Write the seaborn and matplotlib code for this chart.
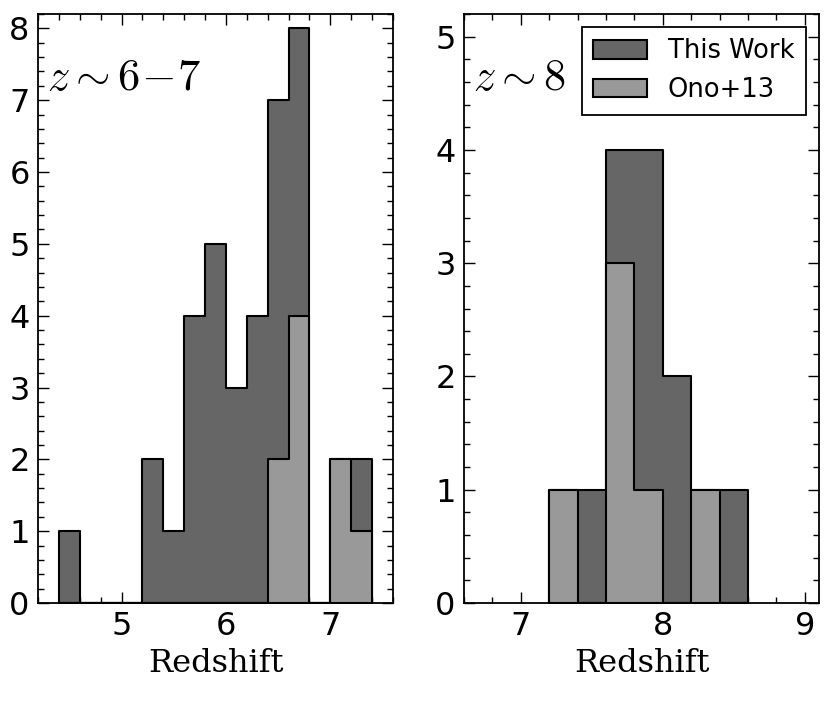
import numpy as np
import matplotlib
matplotlib.use("Agg")
import matplotlib.pyplot as plt
import seaborn as sns
from matplotlib.patches import Patch
from matplotlib.ticker import MultipleLocator

# ---- data ----
left_edges = [4.4, 4.6, 4.8, 5.0, 5.2, 5.4, 5.6, 5.8, 6.0, 6.2, 6.4, 6.6, 6.8, 7.0, 7.2, 7.4]
left_this_work = [1, 0, 0, 0, 2, 1, 4, 5, 3, 4, 7, 8, 0, 2, 2]
left_ono13 = [0, 0, 0, 0, 0, 0, 0, 0, 0, 0, 2, 4, 0, 2, 1]

right_edges = [7.2, 7.4, 7.6, 7.8, 8.0, 8.2, 8.4, 8.6]
right_this_work = [1, 1, 4, 4, 2, 1, 1]
right_ono13 = [1, 0, 3, 1, 0, 1, 0]

panel_labels = [r"$z\sim6\!-\!7$", r"$z\sim8$"]
legend_labels = ["This Work", "Ono+13"]
xlabel = "Redshift"

dark = "#666666"
light = "#999999"

sns.set_theme(style="white")
plt.rcParams["font.family"] = ["DejaVu Sans"]
plt.rcParams["mathtext.fontset"] = "cm"
plt.rcParams["text.color"] = "black"
plt.rcParams["axes.labelcolor"] = "black"
plt.rcParams["xtick.color"] = "black"
plt.rcParams["ytick.color"] = "black"

fig = plt.figure(figsize=(8.3, 7.01), dpi=100)
axL = fig.add_axes([38 / 830, 98 / 701, 355 / 830, 589 / 701])
axR = fig.add_axes([464 / 830, 98 / 701, 355 / 830, 589 / 701])


def centers(edges):
    e = np.array(edges)
    return (e[:-1] + e[1:]) / 2


def draw(ax, edges, tw, ono):
    c = centers(edges)
    for counts, col in ((tw, dark), (ono, light)):
        sns.histplot(x=c, weights=counts, bins=edges, element="step", fill=True,
                     color=col, facecolor=col, alpha=1, edgecolor="black",
                     linewidth=1.5, ax=ax)


draw(axL, left_edges, left_this_work, left_ono13)
draw(axR, right_edges, right_this_work, right_ono13)

axL.set_xlim(4.2, 7.6)
axL.set_ylim(0, 8.2)
axR.set_xlim(6.6, 9.1)
axR.set_ylim(0, 5.2)

for ax, lab in ((axL, panel_labels[0]), (axR, panel_labels[1])):
    ax.set_ylabel("")
    ax.set_xlabel(xlabel, family="DejaVu Serif", fontsize=23, labelpad=4,
                  color="black")
    ax.xaxis.set_major_locator(MultipleLocator(1))
    ax.xaxis.set_minor_locator(MultipleLocator(0.2))
    ax.yaxis.set_major_locator(MultipleLocator(1))
    ax.yaxis.set_minor_locator(MultipleLocator(0.2))
    ax.tick_params(which="both", direction="in", top=True, right=True,
                   bottom=True, left=True, colors="black", labelcolor="black")
    ax.tick_params(which="major", length=8, width=1, labelsize=23, pad=6)
    ax.tick_params(which="minor", length=4, width=1)
    for s in ax.spines.values():
        s.set_visible(True)
        s.set_color("black")
        s.set_linewidth(1.3)
    ax.text(0.025, 0.871, lab, transform=ax.transAxes, fontsize=32,
            ha="left", va="baseline", color="black")

handles = [Patch(facecolor=dark, edgecolor="black", linewidth=1.5),
           Patch(facecolor=light, edgecolor="black", linewidth=1.5)]
leg = axR.legend(handles, legend_labels, loc="upper right", fontsize=18.5,
                 frameon=True, fancybox=False, borderaxespad=0.5,
                 handlelength=2.1, handleheight=0.72, handletextpad=0.8,
                 borderpad=0.45, labelspacing=0.5)
leg.get_frame().set_edgecolor("black")
leg.get_frame().set_linewidth(1.3)
leg.get_frame().set_alpha(1)
for t in leg.get_texts():
    t.set_color("black")

fig.savefig("out.png", dpi=100)
